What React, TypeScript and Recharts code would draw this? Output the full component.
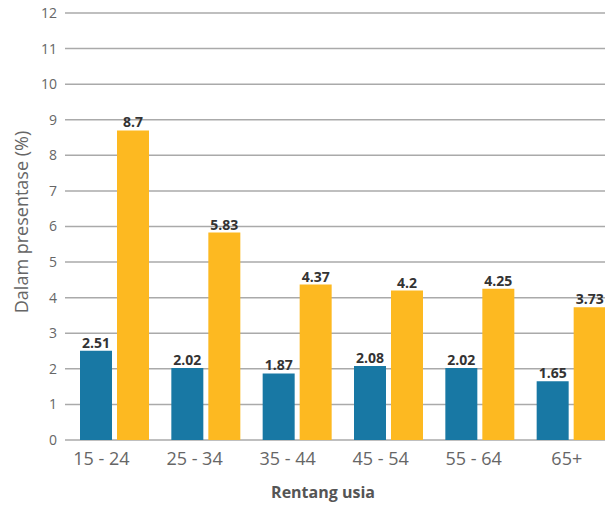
import React from "react";
import { BarChart, Bar, XAxis, YAxis, CartesianGrid, LabelList } from "recharts";

const ageGroups = ["15 - 24", "25 - 34", "35 - 44", "45 - 54", "55 - 64", "65+"];
const seriesBlue = [2.51, 2.02, 1.87, 2.08, 2.02, 1.65];
const seriesYellow = [8.7, 5.83, 4.37, 4.2, 4.25, 3.73];
const yTicks = [0, 1, 2, 3, 4, 5, 6, 7, 8, 9, 10, 11, 12];

const data = ageGroups.map((g, i) => ({ group: g, blue: seriesBlue[i], yellow: seriesYellow[i] }));

const FONT = "'Open Sans', sans-serif";

// Category labels sit on a slightly wider spacing than the bar groups.
const AgeTick = (props: any) => {
  const { x, y, payload } = props;
  const lx = 93.5 + (x - 106.7) * 1.019;
  return (
    <text x={lx} y={y} dy="0.71em" textAnchor="middle" fill="#666" fontSize={18} fontFamily={FONT}>
      {payload.value}
    </text>
  );
};

const YTitle = () => (
  <text
    x={20}
    y={222}
    transform="rotate(-90, 20, 222)"
    textAnchor="middle"
    fill="#666"
    fontSize={18}
    fontFamily={FONT}
  >
    Dalam presentase (%)
  </text>
);

export default function App() {
  return (
    <div style={{ width: 604, overflow: "hidden", marginTop: -8 }}>
      <BarChart
        width={611}
        height={508}
        data={data}
        margin={{ top: 13, right: 2, bottom: 0, left: 0 }}
        barSize={32}
        barGap={5}
        style={{ fontFamily: FONT }}
      >
        <CartesianGrid vertical={false} stroke="#aaa" strokeWidth={1.5} />
        <XAxis
          dataKey="group"
          axisLine={false}
          tickLine={false}
          tickSize={0}
          tickMargin={12}
          height={68}
          padding={{ left: 4, right: 0 }}
          tick={<AgeTick />}
          interval={0}
          label={{
            value: "Rentang usia",
            position: "insideBottom",
            offset: 10,
            dx: -18,
            fill: "#555",
            fontSize: 16,
            fontWeight: 700,
            fontFamily: FONT,
          }}
        />
        <YAxis
          width={57}
          domain={[0, 12]}
          ticks={yTicks}
          interval={0}
          axisLine={false}
          tickLine={false}
          tickSize={0}
          tickMargin={8}
          tick={{ fill: "#666", fontSize: 14, fontFamily: FONT }}
          label={<YTitle />}
        />
        <Bar dataKey="blue" fill="#1878a4" isAnimationActive={false}>
          <LabelList dataKey="blue" position="top" offset={3} fill="#333" fontSize={14} fontWeight={700} fontFamily={FONT} />
        </Bar>
        <Bar dataKey="yellow" fill="#fdb921" isAnimationActive={false}>
          <LabelList dataKey="yellow" position="top" offset={3} fill="#333" fontSize={14} fontWeight={700} fontFamily={FONT} />
        </Bar>
      </BarChart>
    </div>
  );
}
